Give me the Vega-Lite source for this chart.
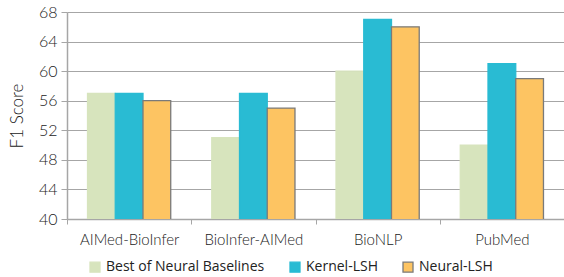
{
  "$schema": "https://vega.github.io/schema/vega-lite/v6.json",
  "width": 497,
  "height": 207,
  "autosize": {"type": "none"},
  "padding": {"left": 67, "top": 12, "right": 0, "bottom": 58},
  "background": "white",
  "data": {
    "values": [
      {"dataset": "AIMed-BioInfer", "method": "Best of Neural Baselines", "f1": 57},
      {"dataset": "AIMed-BioInfer", "method": "Kernel-LSH", "f1": 57},
      {"dataset": "AIMed-BioInfer", "method": "Neural-LSH", "f1": 56},
      {"dataset": "BioInfer-AIMed", "method": "Best of Neural Baselines", "f1": 51},
      {"dataset": "BioInfer-AIMed", "method": "Kernel-LSH", "f1": 57},
      {"dataset": "BioInfer-AIMed", "method": "Neural-LSH", "f1": 55},
      {"dataset": "BioNLP", "method": "Best of Neural Baselines", "f1": 60},
      {"dataset": "BioNLP", "method": "Kernel-LSH", "f1": 67},
      {"dataset": "BioNLP", "method": "Neural-LSH", "f1": 66},
      {"dataset": "PubMed", "method": "Best of Neural Baselines", "f1": 50},
      {"dataset": "PubMed", "method": "Kernel-LSH", "f1": 61},
      {"dataset": "PubMed", "method": "Neural-LSH", "f1": 59}
    ]
  },
  "config": {
    "view": {"stroke": null},
    "font": "Lato"
  },
  "mark": {"type": "bar", "clip": true, "strokeWidth": 1.3},
  "encoding": {
    "x": {
      "field": "dataset",
      "type": "nominal",
      "sort": null,
      "scale": {"paddingInner": 0, "paddingOuter": 0},
      "axis": {
        "title": null,
        "labelAngle": 0,
        "labelFont": "Lato",
        "labelFontSize": 15,
        "labelFontWeight": 300,
        "labelColor": "#222222",
        "labelPadding": 8,
        "tickBand": "extent",
        "tickColor": "#a6a6a6",
        "tickSize": 5,
        "domainColor": "#a6a6a6",
        "domainWidth": 1.5,
        "grid": false
      }
    },
    "xOffset": {
      "field": "method",
      "type": "nominal",
      "sort": ["Best of Neural Baselines", "Kernel-LSH", "Neural-LSH"],
      "scale": {"paddingInner": 0, "paddingOuter": 0.74}
    },
    "y": {
      "field": "f1",
      "type": "quantitative",
      "scale": {"domain": [40, 68], "zero": false, "nice": false},
      "axis": {
        "title": "F1 Score",
        "titleFont": "Lato",
        "titleFontSize": 17,
        "titleFontWeight": 300,
        "titleColor": "#222222",
        "titlePadding": 12,
        "values": [40, 44, 48, 52, 56, 60, 64, 68],
        "labelFont": "Lato",
        "labelFontSize": 16,
        "labelFontWeight": 300,
        "labelColor": "#222222",
        "labelPadding": 4,
        "tickSize": 6,
        "tickColor": "#a6a6a6",
        "gridColor": "#a6a6a6",
        "gridWidth": 1.2,
        "domainColor": "#a6a6a6",
        "domainWidth": 1.5
      }
    },
    "color": {
      "field": "method",
      "type": "nominal",
      "sort": ["Best of Neural Baselines", "Kernel-LSH", "Neural-LSH"],
      "scale": {
        "domain": ["Best of Neural Baselines", "Kernel-LSH", "Neural-LSH"],
        "range": ["#d7e4bd", "#29bbd3", "#fdc462"]
      },
      "legend": {
        "title": null,
        "orient": "none",
        "legendX": 21,
        "legendY": 248,
        "direction": "horizontal",
        "symbolType": "square",
        "symbolSize": 100,
        "symbolStrokeWidth": 1.3,
        "labelFont": "Open Sans",
        "labelFontSize": 14,
        "labelColor": "#222222",
        "labelOffset": 4,
        "columnPadding": 22
      }
    },
    "stroke": {
      "field": "method",
      "type": "nominal",
      "sort": ["Best of Neural Baselines", "Kernel-LSH", "Neural-LSH"],
      "scale": {
        "domain": ["Best of Neural Baselines", "Kernel-LSH", "Neural-LSH"],
        "range": ["#d7e4bd", "#29bbd3", "#7a7a7a"]
      },
      "legend": {
        "title": null,
        "orient": "none",
        "legendX": 21,
        "legendY": 248,
        "direction": "horizontal",
        "symbolType": "square",
        "symbolSize": 100,
        "symbolStrokeWidth": 1.3,
        "labelFont": "Open Sans",
        "labelFontSize": 14,
        "labelColor": "#222222",
        "labelOffset": 4,
        "columnPadding": 22
      }
    }
  }
}
